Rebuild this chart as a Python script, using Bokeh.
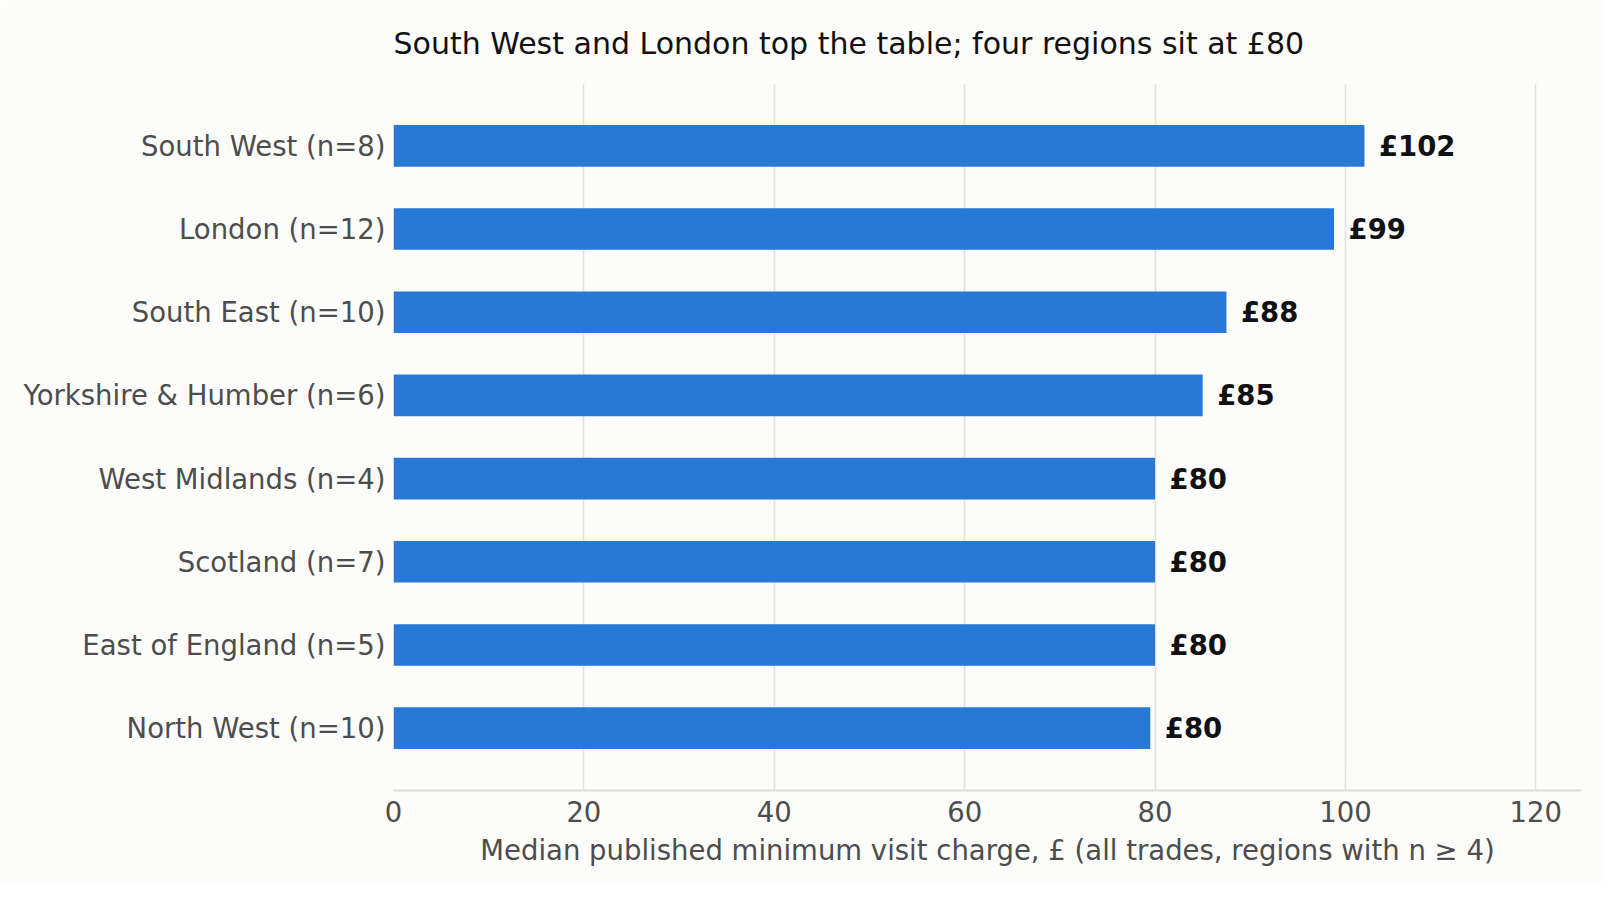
from bokeh.plotting import figure
from bokeh.models import ColumnDataSource, FactorRange, Range1d, FixedTicker
from bokeh.embed import file_html
from bokeh.resources import INLINE

# top-to-bottom order as shown
regions = [
    "South West (n=8)",
    "London (n=12)",
    "South East (n=10)",
    "Yorkshire & Humber (n=6)",
    "West Midlands (n=4)",
    "Scotland (n=7)",
    "East of England (n=5)",
    "North West (n=10)",
]
median_charge = [102, 98.8, 87.5, 85, 80, 80, 80, 79.5]
bar_labels = ["£102", "£99", "£88", "£85", "£80", "£80", "£80", "£80"]
x_ticks = [0, 20, 40, 60, 80, 100, 120]

FONT = "DejaVu Sans"
BG = "#FCFCFA"

source = ColumnDataSource(data=dict(region=regions, charge=median_charge, label=bar_labels))

p = figure(
    width=1604,
    height=884,
    y_range=FactorRange(factors=regions[::-1], range_padding=0.25, range_padding_units="absolute"),
    x_range=Range1d(0, 124.8),
    output_backend="svg",
    toolbar_location=None,
    title="South West and London top the table; four regions sit at £80",
    min_border_left=393,
    min_border_right=23,
    min_border_top=82,
    min_border_bottom=94,
)

p.background_fill_color = BG
p.border_fill_color = BG
p.outline_line_color = None

p.title.align = "left"
p.title.text_font = FONT
p.title.text_font_size = "30px"
p.title.text_font_style = "normal"
p.title.text_color = "#111111"
p.title.offset = 0
p.title.standoff = 46

p.hbar(y="region", right="charge", left=0, height=0.5, source=source,
       fill_color="#2878D6", line_color=None)

p.text(x="charge", y="region", text="label", source=source,
       x_offset=14.5, text_align="left", text_baseline="middle",
       text_font_size="27.5px", text_font_style="bold", text_color="#111111",
       text_font={"value": FONT})

# grid
p.ygrid.grid_line_color = None
p.xgrid.grid_line_color = "#E2E2E2"
p.xgrid.grid_line_width = 1.6
p.xaxis.ticker = FixedTicker(ticks=x_ticks)

# x axis
p.xaxis.axis_label = "Median published minimum visit charge, £ (all trades, regions with n ≥ 4)"
p.xaxis.axis_label_text_font = FONT
p.xaxis.axis_label_text_font_size = "27.5px"
p.xaxis.axis_label_text_font_style = "normal"
p.xaxis.axis_label_text_color = "#4D4D4D"
p.xaxis.axis_label_standoff = 9
p.xaxis.major_label_text_font = FONT
p.xaxis.major_label_text_font_size = "27.5px"
p.xaxis.major_label_text_color = "#4D4D4D"
p.xaxis.major_label_standoff = 10
p.xaxis.axis_line_color = "#DDDDDD"
p.xaxis.axis_line_width = 2
p.xaxis.major_tick_line_color = None
p.xaxis.minor_tick_line_color = None
p.xaxis.major_tick_out = 0
p.xaxis.major_tick_in = 0
p.xaxis.minor_tick_out = 0

# y axis
p.yaxis.axis_line_color = None
p.yaxis.major_tick_line_color = None
p.yaxis.minor_tick_line_color = None
p.yaxis.major_tick_out = 0
p.yaxis.major_tick_in = 0
p.yaxis.major_label_text_font = FONT
p.yaxis.major_label_text_font_size = "27.5px"
p.yaxis.major_label_text_color = "#4D4D4D"
p.yaxis.major_label_standoff = 8

open("out.html", "w").write(file_html(p, INLINE))
